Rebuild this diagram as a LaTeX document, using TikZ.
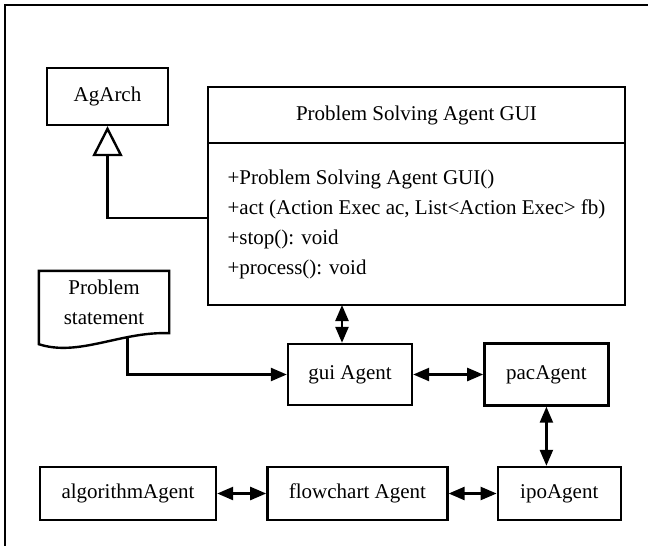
\documentclass[tikz,border=0pt]{standalone}
\usepackage{fontspec}
\setmainfont{Liberation Serif}
\usetikzlibrary{positioning,arrows.meta,shapes}

\begin{document}
\begin{tikzpicture}[
    x = 0.5pt, y = -0.5pt,
    > = {Triangle[length=8pt, width=6.5pt]},
    line width = 1.2pt,
    font = \fontsize{10.5}{15}\selectfont,
    agent/.style={rectangle, draw, minimum width=62pt, minimum height=26.5pt, inner sep=2pt},
    classhead/.style={rectangle, draw, outer sep=0pt, minimum width=208.5pt, minimum height=28pt},
    classbody/.style={rectangle, draw, outer sep=0pt, minimum width=208.5pt, minimum height=81pt, align=left},
    inherit/.style={-{Triangle[open, length=15pt, width=15pt]}}
]
    \useasboundingbox (0,0) rectangle (648,546);
    \draw[line width=1pt] (5,546) -- (5,5) -- (648,5);

    % class box
    \node[classhead] (psag) at (416.5,115) {Problem Solving Agent GUI};
    \node[classbody, below=0pt of psag] (psagops) {+Problem Solving Agent GUI()\\
        +act (Action Exec ac, List<Action Exec> fb)\\
        +stop(): void\\
        +process(): void};
    \node[agent, minimum width=60.5pt, minimum height=28.5pt] (agarch) at (107.5,96.5) {AgArch};

    % document
    \node[minimum width=64pt, minimum height=30pt, align=center] (prob) at (104,302) {Problem\\statement};
    \draw (prob.north west) -- ([yshift=-5.5pt]prob.south west)
        .. controls +(20pt,-6.5pt) and +(-24pt,1pt) .. coordinate[pos=0.7] (probout) (prob.south east)
        -- (prob.north east) -- cycle;

    % agents
    \node[agent, minimum height=30.5pt] (gui) at (350,374.5) {gui Agent};
    \node[agent, minimum height=31pt, right=35pt of gui] (pac) {pacAgent};
    \node[agent, minimum width=88pt] (alg) at (128,493.5) {algorithmAgent};
    \node[agent, minimum width=90pt, right=24.5pt of alg] (flow) {flowchart Agent};
    \node[agent, minimum width=61.5pt, right=24pt of flow] (ipo) {ipoAgent};

    \draw[inherit] ([yshift=3pt]psagops.west) -| (agarch);
    \draw[<->] ([xshift=-4pt]gui.north) -- ([xshift=-4pt]gui.north |- psagops.south);
    \draw[<->] (gui.east) -- (gui.east -| pac.west);
    \draw[<->] (pac) -- (pac |- ipo.north);
    \draw[<->] (alg) -- (flow);
    \draw[<->] (flow) -- (ipo);
    \draw[->] (probout) |- (gui);
\end{tikzpicture}
\end{document}
